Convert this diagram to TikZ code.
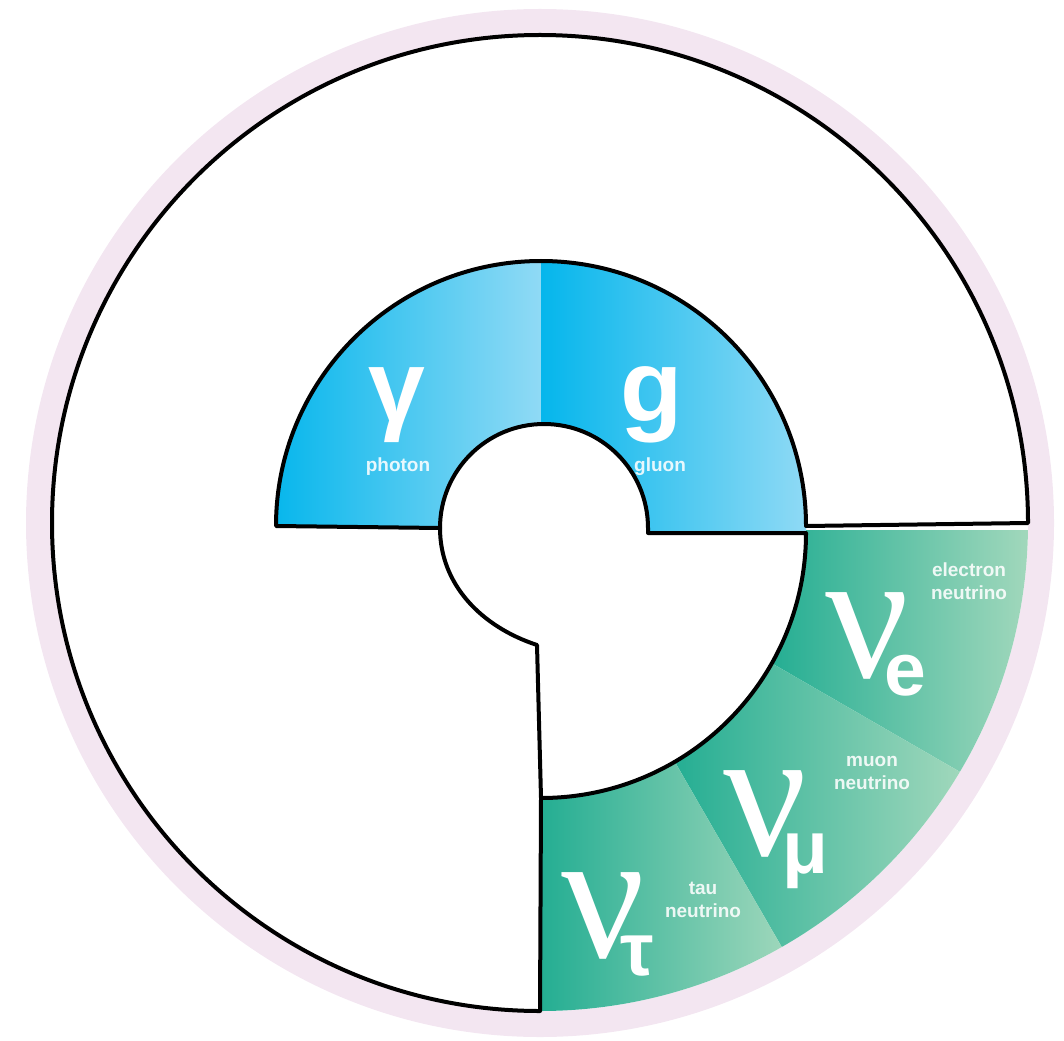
\documentclass[tikz,border=0pt]{standalone}
\usepackage{fontspec}
\setmainfont{Liberation Sans}
\newfontfamily\serifgr{Liberation Serif}
\definecolor{pinkring}{HTML}{F3E6F1}
\definecolor{blueD}{HTML}{05B6EC}
\definecolor{blueL}{HTML}{90DAF5}
\definecolor{tealD}{HTML}{22AD92}
\definecolor{tealL}{HTML}{A2D8BC}
\begin{document}
\begin{tikzpicture}[x=1pt,y=1pt,
  outline/.style={line width=4pt, line join=round, line cap=round},
  lab/.style={text=white, text opacity=0.88, font=\bfseries\fontsize{19}{23}\selectfont, align=center, inner sep=0pt},
  nusym/.style={text=white, inner sep=0pt, anchor=base west},
  big/.style={text=white, font=\bfseries\fontsize{102}{102}\selectfont, inner sep=0pt}]
\newcommand\nusub[1]{{\serifgr\fontsize{185}{185}\selectfont ν}\kern-24pt\raisebox{-18pt}{\bfseries\fontsize{75}{75}\selectfont #1}}
\useasboundingbox (0,0) rectangle (1064,-1040);
\fill[pinkring] (540,-523) circle (514);
\fill[white] (540,-523) circle (488);
% blue half ring
\begin{scope}
  \clip (276,-526) arc[start angle=180,end angle=90,radius=265] -- (541,-424)
        -- (544,-424) arc[start angle=90,end angle=180,radius=104] -- cycle;
  \shade[left color=blueD, right color=blueL] (270,-250) rectangle (541,-535);
\end{scope}
\begin{scope}
  \clip (541,-261) arc[start angle=90,end angle=0,radius=265] -- (806,-533) -- (648,-533)
        -- (648,-528) arc[start angle=0,end angle=90,radius=104] -- (541,-424) -- cycle;
  \shade[left color=blueD, right color=blueL] (541,-250) rectangle (808,-535);
\end{scope}
% green quarter ring
\newcommand\greenpath{(806,-526) -- (1028,-523) arc[start angle=0,end angle=-90,radius=488]
   -- (541,-798) arc[start angle=-90,end angle=0,radius=265] -- cycle}
\begin{scope}
  \clip \greenpath;
  \begin{scope}
    \clip (541,-530) -- ++(0:700) arc[start angle=0,end angle=-30,radius=700] -- cycle;
    \shade[left color=tealD, right color=tealL] (766,-500) rectangle (1030,-820);
  \end{scope}
  \begin{scope}
    \clip (541,-530) -- ++(-30:700) arc[start angle=-30,end angle=-60,radius=700] -- cycle;
    \shade[left color=tealD, right color=tealL] (668,-630) rectangle (965,-970);
  \end{scope}
  \begin{scope}
    \clip (541,-530) -- ++(-60:700) arc[start angle=-60,end angle=-90,radius=700] -- cycle;
    \shade[left color=tealD, right color=tealL] (537,-730) rectangle (792,-1030);
  \end{scope}
\end{scope}
% outlines
\draw[outline] (1028,-523) arc[start angle=0,end angle=270,radius=488]
   -- (541,-798) -- (537,-645) .. controls (482,-627) and (440,-585) .. (440,-528)
   -- (276,-526) arc[start angle=180,end angle=0,radius=265] -- cycle;
\draw[outline] (440,-528) arc[start angle=180,end angle=0,radius=104]
   -- (648,-533) -- (806,-533) arc[start angle=0,end angle=-90,radius=265];
% labels
\node[big] (gamma) at (397,-405) {γ};
\node[big] (g) at (652,-405) {g};
\node[lab] (photon) at (398,-467) {photon};
\node[lab] (gluon) at (660,-467) {gluon};
\node[nusym] (nue) at (825,-677) {\nusub{e}};
\node[lab] (elab) at (969,-581) {electron\\neutrino};
\node[nusym] (numu) at (723,-855) {\nusub{μ}};
\node[lab] (mulab) at (872,-773) {muon\\neutrino};
\node[nusym] (nutau) at (561,-957) {\nusub{τ}};
\node[lab] (taulab) at (703,-900) {tau\\neutrino};
\end{tikzpicture}
\end{document}
